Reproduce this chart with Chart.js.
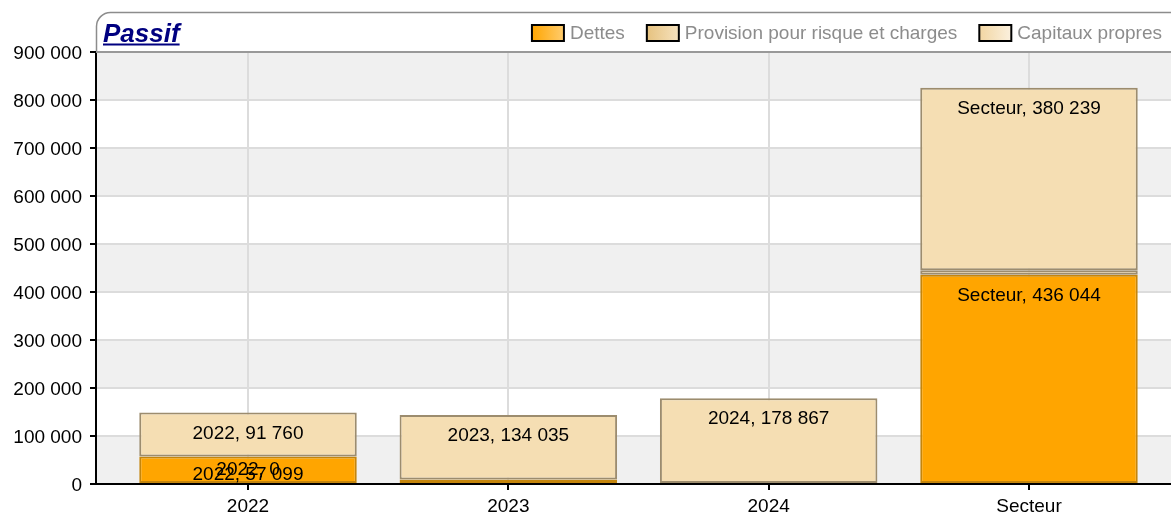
<!DOCTYPE html>
<html lang="fr">
<head>
<meta charset="utf-8">
<title>Passif</title>
<script src="https://cdn.jsdelivr.net/npm/chart.js@4.4.1/dist/chart.umd.min.js"></script>
<style>
    html, body { margin: 0; padding: 0; background: #fff; }
    #zone { position: relative; width: 1171px; height: 512px; }
</style>
</head>
<body>
<div id="zone"><canvas id="grafico-passif"></canvas></div>
<script>
// Données
const categories = ['2022', '2023', '2024', 'Secteur'];
const dettes = [57099, 9500, null, 436044];
const provisions = [0, null, null, 9400];
const capitaux = [91760, 134035, 178867, 380239];
const yTicks = [0, 100000, 200000, 300000, 400000, 500000, 600000, 700000, 800000, 900000];

const POLICE = 'Arial, "Liberation Sans", Helvetica, sans-serif';

function formatNombre(n) {
    return String(n).replace(/\B(?=(\d{3})+(?!\d))/g, ' ');
}

function versPoints(valeurs) {
    return valeurs.map((v, i) => ({ x: i, y: v }));
}

// Bandes alternées + cadre du titre
const fondPlugin = {
    id: 'fond',
    beforeDraw(chart) {
        const { ctx, chartArea } = chart;
        const y = chart.scales.y;
        ctx.save();
        ctx.fillStyle = '#f0f0f0';
        for (let k = 0; k < yTicks.length - 1; k++) {
            if (k % 2 !== 0) continue;
            const y1 = y.getPixelForValue(yTicks[k]);
            const y2 = y.getPixelForValue(yTicks[k + 1]);
            ctx.fillRect(chartArea.left, y2, chartArea.right - chartArea.left, y1 - y2);
        }
        // cadre arrondi de l'entête
        ctx.strokeStyle = '#8c8c8c';
        ctx.lineWidth = 1.5;
        ctx.beginPath();
        ctx.moveTo(chartArea.left + 0.5, chartArea.top);
        ctx.lineTo(chartArea.left + 0.5, 27);
        ctx.arcTo(chartArea.left + 0.5, 12.5, chartArea.left + 15, 12.5, 14);
        ctx.lineTo(chart.width + 5, 12.5);
        ctx.stroke();
        ctx.restore();
    },
    afterDraw(chart) {
        const { ctx, chartArea } = chart;
        ctx.save();
        // ligne haute de la zone de tracé
        ctx.strokeStyle = '#999999';
        ctx.lineWidth = 2;
        ctx.beginPath();
        ctx.moveTo(chartArea.left, chartArea.top);
        ctx.lineTo(chartArea.right, chartArea.top);
        ctx.stroke();

        // titre
        ctx.font = 'italic bold 26px ' + POLICE;
        ctx.fillStyle = '#000080';
        ctx.textAlign = 'left';
        ctx.textBaseline = 'alphabetic';
        const titre = 'Passif';
        ctx.fillText(titre, 103, 42);
        const lt = ctx.measureText(titre).width;
        ctx.fillRect(103, 43.5, lt, 2);

        // légende
        ctx.font = '19px ' + POLICE;
        ctx.textBaseline = 'middle';
        const boite = 32, haut = 16, ecart = 6, espace = 22;
        let x = 1162;
        const items = chart.data.datasets.slice().reverse();
        items.forEach(ds => {
            const w = ctx.measureText(ds.label).width;
            ctx.fillStyle = '#8c8c8c';
            ctx.fillText(ds.label, x - w, 34);
            const bx = x - w - ecart - boite;
            const g = ctx.createLinearGradient(bx, 0, bx + boite, 0);
            g.addColorStop(0, ds.legendeDebut);
            g.addColorStop(1, ds.legendeFin);
            ctx.fillStyle = g;
            ctx.fillRect(bx, 25, boite, haut);
            ctx.strokeStyle = '#000';
            ctx.lineWidth = 2;
            ctx.strokeRect(bx, 25, boite, haut);
            x = bx - espace;
        });
        ctx.restore();
    }
};

// Étiquettes de valeurs
const etiquettesPlugin = {
    id: 'etiquettes',
    afterDatasetsDraw(chart) {
        const { ctx } = chart;
        ctx.save();
        ctx.font = '19px ' + POLICE;
        ctx.fillStyle = '#000';
        ctx.textAlign = 'center';
        ctx.textBaseline = 'middle';
        chart.data.datasets.forEach((ds, di) => {
            const meta = chart.getDatasetMeta(di);
            meta.data.forEach((bar, i) => {
                const v = ds.data[i].y;
                if (v === null || v === undefined) return;
                const h = Math.abs(bar.base - bar.y);
                if (v !== 0 && h < 15) return;
                const ty = v === 0 ? bar.y + 13 : Math.min(bar.y + 21, bar.base - 8.5);
                ctx.fillText(categories[i] + ', ' + formatNombre(v), bar.x, ty);
            });
        });
        ctx.restore();
    }
};

function inicializarGrafico() {
    const ctx = document.getElementById('grafico-passif').getContext('2d');
    new Chart(ctx, {
        type: 'bar',
        data: {
            datasets: [
                {
                    label: 'Dettes',
                    data: versPoints(dettes),
                    backgroundColor: '#FFA500',
                    borderColor: '#c4850c',
                    borderWidth: 2,
                    borderSkipped: false,
                    legendeDebut: '#FFA500',
                    legendeFin: '#FFCC6E'
                },
                {
                    label: 'Provision pour risque et charges',
                    data: versPoints(provisions),
                    backgroundColor: '#F2D8A8',
                    borderColor: '#9c8c6e',
                    borderWidth: 2,
                    borderSkipped: false,
                    legendeDebut: '#E6C27F',
                    legendeFin: '#F6E2BE'
                },
                {
                    label: 'Capitaux propres',
                    data: versPoints(capitaux),
                    backgroundColor: '#F5DEB3',
                    borderColor: '#9c8c6e',
                    borderWidth: 2,
                    borderSkipped: false,
                    legendeDebut: '#F2D6A2',
                    legendeFin: '#FBF0DE'
                }
            ]
        },
        options: {
            responsive: true,
            maintainAspectRatio: false,
            animation: false,
            layout: { padding: { top: 52, left: 0, right: 0, bottom: 0 } },
            datasets: {
                bar: { categoryPercentage: 1, barPercentage: 0.8355 }
            },
            plugins: {
                legend: { display: false },
                tooltip: {
                    callbacks: {
                        title: items => categories[items[0].parsed.x],
                        label: c => c.dataset.label + ': ' + formatNombre(c.parsed.y)
                    }
                }
            },
            scales: {
                x: {
                    type: 'linear',
                    stacked: true,
                    offset: false,
                    min: -0.5839,
                    max: 3.5455,
                    afterBuildTicks: s => { s.ticks = categories.map((c, i) => ({ value: i })); },
                    afterFit: s => { s.height = 28; },
                    ticks: {
                        callback: v => categories[v],
                        color: '#000',
                        font: { family: POLICE, size: 19 },
                        padding: 5,
                        maxRotation: 0,
                        autoSkip: false
                    },
                    grid: { offset: false, color: '#dcdcdc', lineWidth: 2, tickColor: '#000', tickLength: 6 },
                    border: { color: '#000', width: 2 }
                },
                y: {
                    stacked: true,
                    min: 0,
                    max: 900000,
                    afterBuildTicks: s => { s.ticks = yTicks.map(v => ({ value: v })); },
                    afterFit: s => { s.width = 96; },
                    ticks: {
                        callback: v => formatNombre(v),
                        color: '#000',
                        font: { family: POLICE, size: 19 },
                        padding: 8,
                        labelOffset: 2
                    },
                    grid: { color: '#dcdcdc', lineWidth: 2, tickColor: '#000', tickLength: 6 },
                    border: { color: '#000', width: 2 }
                }
            }
        },
        plugins: [fondPlugin, etiquettesPlugin]
    });
}

document.addEventListener('DOMContentLoaded', inicializarGrafico);
</script>
</body>
</html>
